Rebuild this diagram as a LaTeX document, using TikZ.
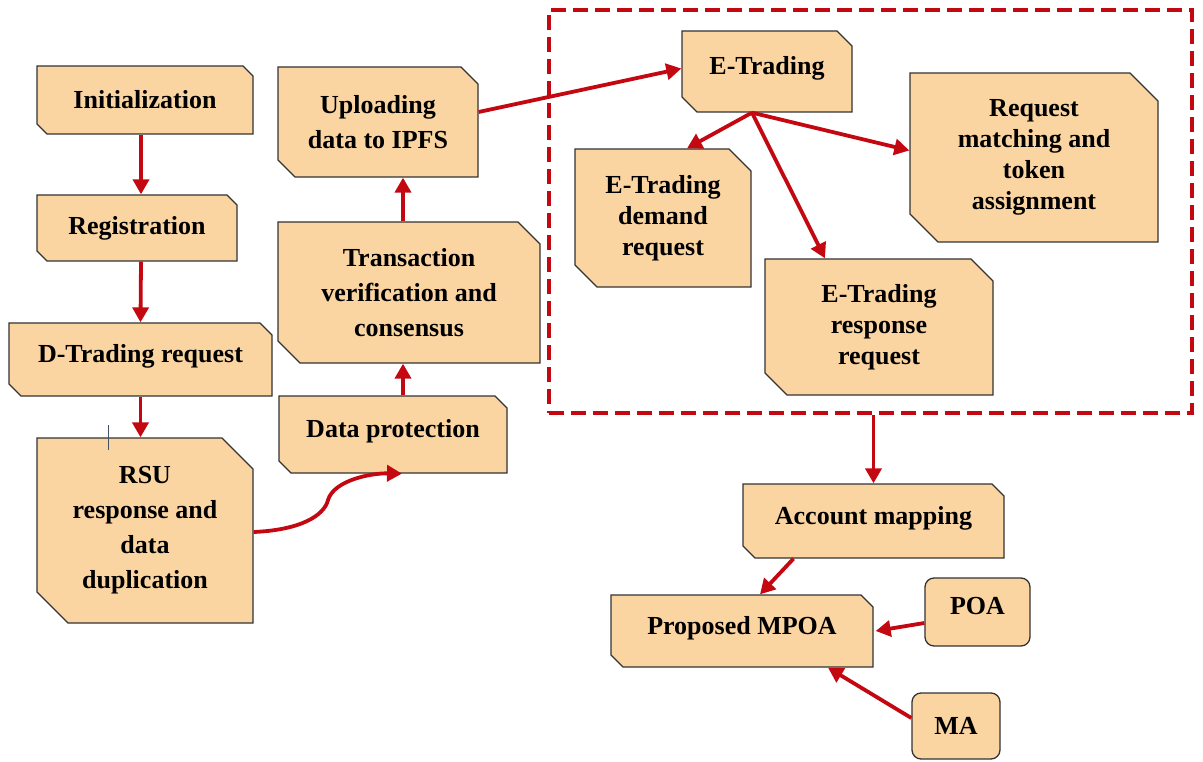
\documentclass[tikz,border=0pt]{standalone}
\usepackage{fontspec}
\setmainfont{Liberation Serif}
\usetikzlibrary{arrows.meta,shapes.misc}
\definecolor{boxfill}{RGB}{251,213,161}
\definecolor{arrowred}{RGB}{196,8,18}
\definecolor{tickgray}{RGB}{70,80,100}

\begin{document}
\begin{tikzpicture}[x=1pt,y=-1pt,
	snip/.style={chamfered rectangle, chamfered rectangle corners={north east,south west}, chamfered rectangle sep=#1,
		draw=black!80, line width=1.3pt, fill=boxfill, inner sep=1pt, align=center,
		font=\fontsize{26}{35}\selectfont\bfseries},
	snip/.default=5pt,
	tight/.style={font=\fontsize{26}{31}\selectfont\bfseries},
	lift/.style={text depth=12pt},
	small/.style={rectangle, draw=black!80, line width=1.3pt, fill=boxfill, rounded corners=9pt,
		font=\fontsize{26}{31}\selectfont\bfseries},
	arr/.style={draw=arrowred, line width=3.8pt, -{Triangle[length=15pt,width=16pt]}}]
	\useasboundingbox (0,0) rectangle (1203,762);
	
	\node[snip, minimum width=216pt, minimum height=68pt] (init) at (145,100) {Initialization};
	\node[snip, minimum width=200pt, minimum height=66pt] (reg) at (137,228) {Registration};
	\node[snip=6pt, lift, minimum width=263pt, minimum height=73pt] (dreq) at (140.5,359.5) {D-Trading request};
	\node[snip=15.5pt, minimum width=216pt, minimum height=185pt] (rsu) at (145,530.5) {RSU\\response and\\data\\duplication};
	\draw[tickgray, line width=1pt] (108,425) -- (108,450);
	
	\node[snip=6pt, lift, minimum width=228pt, minimum height=77pt] (dprot) at (393,434.5) {Data protection};
	\node[snip=11pt, minimum width=262pt, minimum height=141pt] (trans) at (409,292.5) {Transaction\\verification and\\consensus};
	\node[snip=8.5pt, minimum width=200pt, minimum height=110pt] (upload) at (378,122) {Uploading\\data to IPFS};
	
	\node[draw=arrowred, line width=3.8pt, dash pattern=on 15pt off 7pt, minimum width=643pt, minimum height=403pt] (ebox) at (870.5,211.5) {};
	\node[snip=7.5pt, lift, minimum width=170pt, minimum height=81pt] (etr) at (767,71.5) {E-Trading};
	\node[snip=11pt, tight, minimum width=176pt, minimum height=138pt] (edem) at (663,218) {E-Trading\\demand\\request};
	\node[snip=14pt, tight, minimum width=248pt, minimum height=169pt] (ematch) at (1034,157.5) {Request\\matching and\\token\\assignment};
	\node[snip=11pt, tight, minimum width=228pt, minimum height=136pt] (eresp) at (879,327) {E-Trading\\response\\request};
	
	\node[snip=6pt, lift, minimum width=261pt, minimum height=74pt] (acc) at (873.5,521) {Account mapping};
	\node[snip=6pt, lift, minimum width=262pt, minimum height=72pt] (mpoa) at (742,631) {Proposed MPOA};
	\node[small, lift, minimum width=105pt, minimum height=68pt] (poa) at (977.5,612) {POA};
	\node[small, minimum width=88pt, minimum height=66pt] (ma) at (956,726) {MA};
	
	\draw[arr] ([xshift=-4pt]init.south) -- ([xshift=4pt]reg.north);
	\draw[arr] ([xshift=4pt]reg.south) -- (dreq.north);
	\draw[arr] (dreq.south) -- (dreq.south |- rsu.north);
	\draw[arr] ([yshift=-1.5pt]rsu.east) .. controls (300,530) and (324,516) .. (328,500)
		.. controls (334,480) and (372,473) .. ([xshift=9pt]dprot.south);
	\draw[arr] ([xshift=10pt]dprot.north) -- ([xshift=-6pt]trans.south);
	\draw[arr] ([xshift=-6pt]trans.north) -- ([xshift=25pt]upload.south);
	\draw[arr] ([yshift=10pt]upload.east) -- ([yshift=3pt]etr.west);
	\coordinate (etrs) at ([xshift=-15pt]etr.south);
	\draw[arr] (etrs) -- ([xshift=24pt]edem.north);
	\draw[arr] (etrs) -- ([xshift=-54pt]eresp.north);
	\draw[arr] (etrs) -- ([yshift=7pt]ematch.west);
	\draw[arr] (acc.north |- ebox.south) -- (acc.north);
	\draw[arr] ([xshift=-80pt]acc.south) -- ([xshift=18pt]mpoa.north);
	\draw[arr] ([yshift=-11pt]poa.west) -- ([xshift=2pt]mpoa.east);
	\draw[arr] ([yshift=8pt]ma.west) -- ([xshift=86pt]mpoa.south);
\end{tikzpicture}
\end{document}
